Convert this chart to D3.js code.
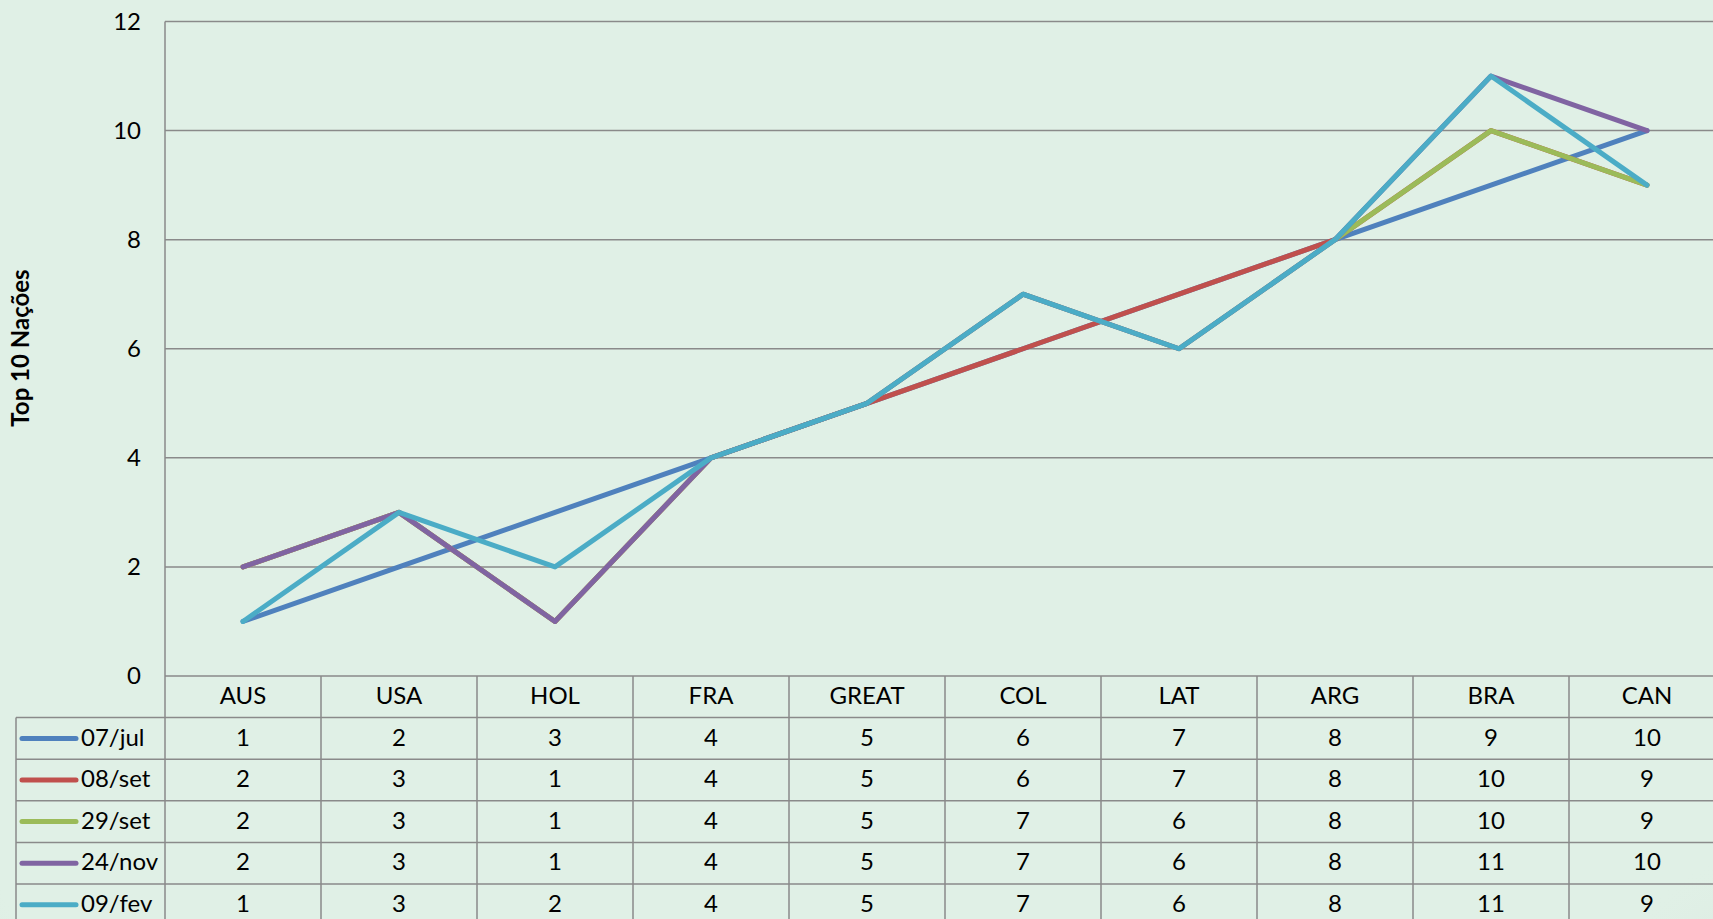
<!DOCTYPE html>
<html>
<head>
<meta charset="utf-8">
<script src="https://cdn.jsdelivr.net/npm/d3@7"></script>
<style>
  html,body{margin:0;padding:0;background:#e0f0e6;overflow:hidden;}
  svg{display:block;font-family:Lato,"Open Sans",sans-serif;}
  .grid line{stroke:#8a8a8a;stroke-width:1.5;}
  .cell{stroke:#8a8a8a;stroke-width:1.5;}
</style>
</head>
<body>
<svg id="chart" width="1713" height="919"></svg>
<script>
const countries=["AUS","USA","HOL","FRA","GREAT","COL","LAT","ARG","BRA","CAN"];
const seriesNames=["07/jul","08/set","29/set","24/nov","09/fev"];
const jul07=[1,2,3,4,5,6,7,8,9,10];
const set08=[2,3,1,4,5,6,7,8,10,9];
const set29=[2,3,1,4,5,7,6,8,10,9];
const nov24=[2,3,1,4,5,7,6,8,11,10];
const fev09=[1,3,2,4,5,7,6,8,11,9];
const colors=["#4f81bd","#c0504d","#9bbb59","#8064a2","#4bacc6"];
const yTicks=[0,2,4,6,8,10,12];

const series=[jul07,set08,set29,nov24,fev09].map((v,i)=>({name:seriesNames[i],values:v,color:colors[i]}));

const svg=d3.select("#chart");
const plotLeft=165,colW=156,plotTop=21.5,plotBottom=676,rowH=41.6,legendLeft=16;

// soft background shading like the slide
const defs=svg.append("defs");
const g1=defs.append("radialGradient").attr("id","shadeL").attr("cx","0").attr("cy","1").attr("r","0.5");
g1.append("stop").attr("offset","0").attr("stop-color","#b8c4bd").attr("stop-opacity",0.55);
g1.append("stop").attr("offset","1").attr("stop-color","#e0f0e6").attr("stop-opacity",0);
const g2=defs.append("radialGradient").attr("id","shadeR").attr("cx","1").attr("cy","1").attr("r","0.5");
g2.append("stop").attr("offset","0").attr("stop-color","#c4cec8").attr("stop-opacity",0.5);
g2.append("stop").attr("offset","1").attr("stop-color","#e0f0e6").attr("stop-opacity",0);
svg.append("rect").attr("width",1713).attr("height",919).attr("fill","#e0f0e6");
svg.append("rect").attr("x",-60).attr("y",640).attr("width",200).attr("height",400).attr("fill","url(#shadeL)");
svg.append("rect").attr("x",1450).attr("y",700).attr("width",320).attr("height",300).attr("fill","url(#shadeR)");

const x=d3.scaleBand().domain(countries).range([plotLeft,plotLeft+colW*countries.length]).padding(0);
const y=d3.scaleLinear().domain([0,12]).range([plotBottom,plotTop]);

// gridlines
svg.append("g").attr("class","grid")
  .selectAll("line").data(yTicks.filter(d=>d>0)).join("line")
  .attr("x1",plotLeft).attr("x2",x.range()[1])
  .attr("y1",d=>y(d)).attr("y2",d=>y(d));

// y axis labels
const ya=svg.append("g").attr("transform",`translate(${plotLeft},0)`)
  .call(d3.axisLeft(y).tickValues(yTicks).tickSize(0).tickPadding(24));
ya.select(".domain").remove();
ya.selectAll("text").attr("font-size",24).attr("font-family","Lato,'Open Sans',sans-serif").attr("fill","#000");

// axis title
svg.append("text")
  .attr("transform","translate(29,348) rotate(-90)")
  .attr("text-anchor","middle")
  .attr("font-size",24).attr("font-weight","bold").attr("fill","#000")
  .text("Top 10 Nações");

// data table
const nRows=series.length;
const tableBottom=plotBottom+rowH*(nRows+1);
const tbl=svg.append("g");
tbl.append("line").attr("class","cell")
  .attr("x1",plotLeft).attr("x2",x.range()[1]).attr("y1",plotBottom).attr("y2",plotBottom);
d3.range(1,nRows+1).forEach(r=>{
  tbl.append("line").attr("class","cell")
    .attr("x1",legendLeft).attr("x2",x.range()[1])
    .attr("y1",plotBottom+rowH*r).attr("y2",plotBottom+rowH*r);
});
tbl.append("line").attr("class","cell").attr("x1",plotLeft).attr("x2",plotLeft).attr("y1",plotTop).attr("y2",tableBottom);
tbl.append("line").attr("class","cell").attr("x1",legendLeft).attr("x2",legendLeft).attr("y1",plotBottom+rowH).attr("y2",tableBottom);
countries.forEach(c=>{
  const xr=x(c)+x.bandwidth();
  tbl.append("line").attr("class","cell").attr("x1",xr).attr("x2",xr).attr("y1",plotBottom).attr("y2",tableBottom);
});
tbl.selectAll("text.hdr").data(countries).join("text").attr("class","hdr")
  .attr("x",d=>x(d)+x.bandwidth()/2).attr("y",plotBottom+rowH/2)
  .attr("dy","0.3em").attr("text-anchor","middle").attr("font-size",24).attr("fill","#000")
  .text(d=>d);
series.forEach((s,i)=>{
  const cy=plotBottom+rowH*(i+1)+rowH/2;
  tbl.append("line").attr("x1",22).attr("x2",76).attr("y1",cy).attr("y2",cy)
    .attr("stroke",s.color).attr("stroke-width",5).attr("stroke-linecap","round");
  tbl.append("text").attr("x",81).attr("y",cy).attr("dy","0.3em")
    .attr("font-size",24).attr("fill","#000").text(s.name);
  tbl.selectAll(null).data(s.values).join("text")
    .attr("x",(d,j)=>x(countries[j])+x.bandwidth()/2).attr("y",cy).attr("dy","0.3em")
    .attr("text-anchor","middle").attr("font-size",24).attr("fill","#000")
    .text(d=>d);
});

// lines
const line=d3.line().x((d,j)=>x(countries[j])+x.bandwidth()/2).y(d=>y(d));
svg.append("g").selectAll("path").data(series).join("path")
  .attr("d",d=>line(d.values))
  .attr("fill","none").attr("stroke",d=>d.color).attr("stroke-width",5)
  .attr("stroke-linejoin","round").attr("stroke-linecap","round");
</script>
</body>
</html>
